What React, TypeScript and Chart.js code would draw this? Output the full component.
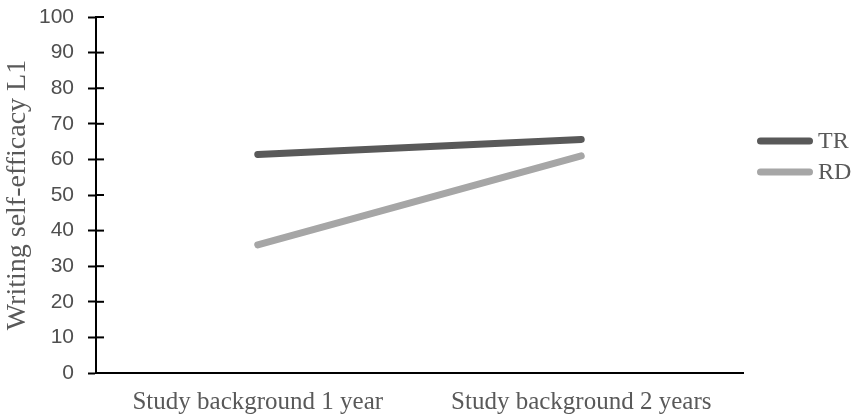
import React, { useEffect, useRef } from "react";
import { Chart, registerables } from "chart.js";

Chart.register(...registerables);

const categories = ["Study background 1 year", "Study background 2 years"];
const seriesNames = ["TR", "RD"];
const trValues = [61.4, 65.6];
const rdValues = [36, 61];
const seriesColors = ["#595959", "#a6a6a6"];
const yTicks = [0, 10, 20, 30, 40, 50, 60, 70, 80, 90, 100];
const yTitle = "Writing self-efficacy L1";

const SERIF = "'Liberation Serif', 'Times New Roman', serif";
const SANS = "'Liberation Sans', Arial, sans-serif";

const innerTicks = {
  id: "innerTicks",
  afterDraw(chart: any) {
    const y = chart.scales.y;
    const ctx = chart.ctx;
    ctx.save();
    ctx.strokeStyle = "#000";
    ctx.lineWidth = 2;
    for (const v of yTicks) {
      const py = y.getPixelForValue(v);
      ctx.beginPath();
      ctx.moveTo(chart.chartArea.left, py);
      ctx.lineTo(chart.chartArea.left + 8, py);
      ctx.stroke();
    }
    ctx.restore();
  },
};

const sideLegend = {
  id: "sideLegend",
  afterDraw(chart: any) {
    const ctx = chart.ctx;
    const area = chart.chartArea;
    ctx.save();
    chart.data.datasets.forEach((ds: any, i: number) => {
      const cy = area.top + 124 + i * 31;
      const x0 = area.right + 17.5;
      ctx.strokeStyle = ds.borderColor;
      ctx.lineWidth = 7;
      ctx.lineCap = "round";
      ctx.beginPath();
      ctx.moveTo(x0, cy);
      ctx.lineTo(x0 + 49, cy);
      ctx.stroke();
      ctx.fillStyle = "#595959";
      ctx.font = `24px ${SERIF}`;
      ctx.textBaseline = "middle";
      ctx.textAlign = "left";
      ctx.fillText(ds.label, x0 + 57.5, cy + 1);
    });
    ctx.restore();
  },
};

export default function App() {
  const ref = useRef<HTMLCanvasElement>(null);
  useEffect(() => {
    document.body.style.margin = "0";
    const chart = new Chart(ref.current!, {
      type: "line",
      data: {
        labels: categories,
        datasets: [
          { label: seriesNames[0], data: trValues, borderColor: seriesColors[0], backgroundColor: seriesColors[0] },
          { label: seriesNames[1], data: rdValues, borderColor: seriesColors[1], backgroundColor: seriesColors[1] },
        ].map((d) => ({ ...d, borderWidth: 7, borderCapStyle: "round" as const, pointRadius: 0, tension: 0 })),
      },
      options: {
        animation: false,
        responsive: false,
        layout: { padding: { top: 17, right: 111, left: 0, bottom: 0 } },
        plugins: { legend: { display: false }, tooltip: { enabled: false } },
        scales: {
          x: {
            offset: true,
            grid: { display: true, drawOnChartArea: false, drawTicks: false },
            border: { display: true, color: "#000", width: 2 },
            ticks: { color: "#595959", font: { family: SERIF, size: 25 }, padding: 14, maxRotation: 0 },
            afterFit: (s: any) => { s.height = 44; s.paddingLeft = 0; s.paddingRight = 0; },
          },
          y: {
            min: 0,
            max: 100,
            ticks: { stepSize: 10, color: "#4f4f4f", font: { family: SANS, size: 21 }, padding: 14 },
            grid: { display: true, drawOnChartArea: false, drawTicks: true, tickLength: 8, tickColor: "#000", tickWidth: 2 },
            border: { display: true, color: "#000", width: 2 },
            title: { display: true, text: yTitle, color: "#595959", font: { family: SERIF, size: 28 }, padding: { top: 1, bottom: 0 } },
            afterFit: (s: any) => { s.width = 96; s.paddingTop = 0; s.paddingBottom = 0; },
          },
        },
      },
      plugins: [innerTicks, sideLegend],
    });
    return () => chart.destroy();
  }, []);
  return <canvas ref={ref} width={854} height={417} style={{ display: "block" }} />;
}
